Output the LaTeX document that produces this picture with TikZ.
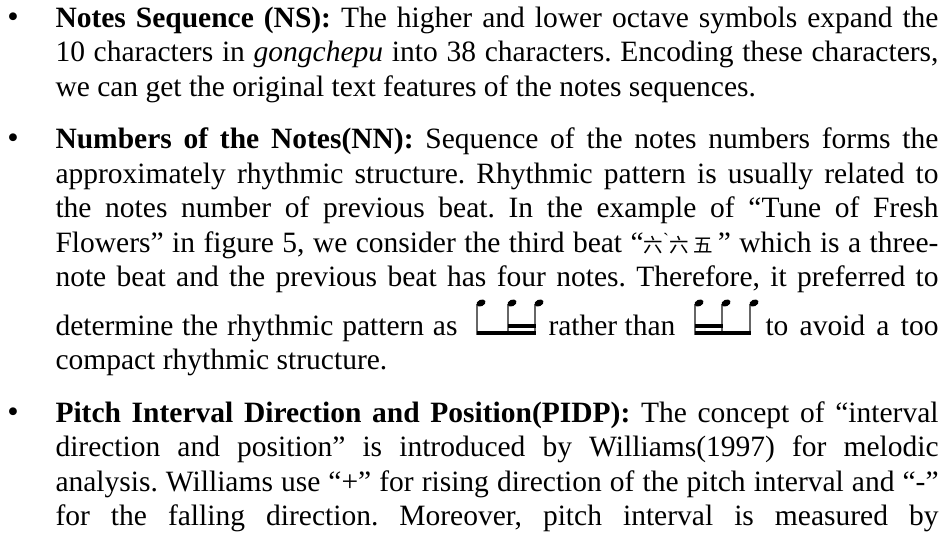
\documentclass[tikz,border=0pt]{standalone}
\usepackage{fontspec}
\setmainfont{Liberation Serif}
\newfontfamily\cjk{Noto Sans CJK SC}
\usetikzlibrary{positioning}

\begin{document}
\frenchspacing
\begin{tikzpicture}[x=0.4pt,y=-0.4pt]
        \tikzstyle{every path}=[thin]

        \edef\widthtext{353.2pt}
        \edef\sizefont{11.8}
        \tikzstyle{para}=[anchor=base west,inner sep=0pt,text width=\widthtext,align=justify,font=\fontsize{\sizefont}{13.8}\selectfont]
        \tikzstyle{piece}=[anchor=base west,inner sep=0pt,font=\fontsize{\sizefont}{13.8}\selectfont]
        \tikzstyle{dot}=[anchor=base,inner sep=0pt,font=\fontsize{13}{13}\selectfont]
        \tikzstyle{stem}=[draw=black!60,line width=0.45pt]
        \tikzstyle{beam}=[fill=black]
        \newcommand{\gcp}[1]{{\cjk\fontsize{7.8}{7.8}\selectfont #1}}

        \useasboundingbox (0,0) rectangle (941,533);

        %the three items
        \node [para] (ns) at (55,27) {\textbf{Notes Sequence (NS):} The higher and lower octave symbols expand the\linebreak
            10 characters in \textit{gongchepu} into 38 characters. Encoding these characters,\linebreak
            we can get the original text features of the notes sequences.};
        \node [para] (nn) at (55,148.5) {\textbf{Numbers of the Notes(NN):} Sequence of the notes numbers forms the\linebreak
            approximately rhythmic structure. Rhythmic pattern is usually related to\linebreak
            the notes number of previous beat. In the example of “Tune of Fresh\linebreak
            Flowers” in figure 5, we consider the third beat “\gcp{六}\raisebox{.5ex}{\scriptsize\textasciigrave}\gcp{六}\,\gcp{五}\,” which is a three-\linebreak
            note beat and the previous beat has four notes. Therefore, it preferred to\linebreak};
        \node [para] (pidp) at (55,422) {\textbf{Pitch Interval Direction and Position(PIDP):} The concept of “interval\linebreak
            direction and position” is introduced by Williams(1997) for melodic\linebreak
            analysis. Williams use “+” for rising direction of the pitch interval and “-”\linebreak
            for the falling direction. Moreover, pitch interval is measured by\linebreak};

        %line with the two rhythm patterns
        \node [piece] (det) at (55,335) {\makebox[160.8pt][s]{determine the rhythmic pattern as}};
        \node [piece] (rather) at (548,335) {rather than};
        \node [piece] (avoid) at (765,335) {\makebox[69.2pt][s]{to avoid a too}};
        \node [piece] (compact) at (55,369.5) {compact rhythmic structure.};

        %bullets
        \node [dot] (bns) at (13,27) {\textbullet};
        \node [dot] (bnn) at (13,148.5) {\textbullet};
        \node [dot] (bpidp) at (13,422) {\textbullet};

        %eighth then two sixteenths
        \begin{scope}[shift={(477,335)}]
        \foreach \x in {0,31,58} {
            \draw [stem] (\x,0) -- (\x,-31);
            \fill (\x+4,-32) ellipse [x radius=1.9pt,y radius=1.3pt,rotate=25];
        };
        \fill [beam] (0,-4) rectangle (58.5,0);
        \fill [beam] (31,-11) rectangle (58.5,-7.5);
        \end{scope}

        %two sixteenths then eighth
        \begin{scope}[shift={(695,335)}]
        \foreach \x in {0,27,55} {
            \draw [stem] (\x,0) -- (\x,-31);
            \fill (\x+4,-32) ellipse [x radius=1.9pt,y radius=1.3pt,rotate=25];
        };
        \fill [beam] (0,-4) rectangle (55.5,0);
        \fill [beam] (0,-11) rectangle (27.5,-7.5);
        \end{scope}
\end{tikzpicture}
\end{document}
